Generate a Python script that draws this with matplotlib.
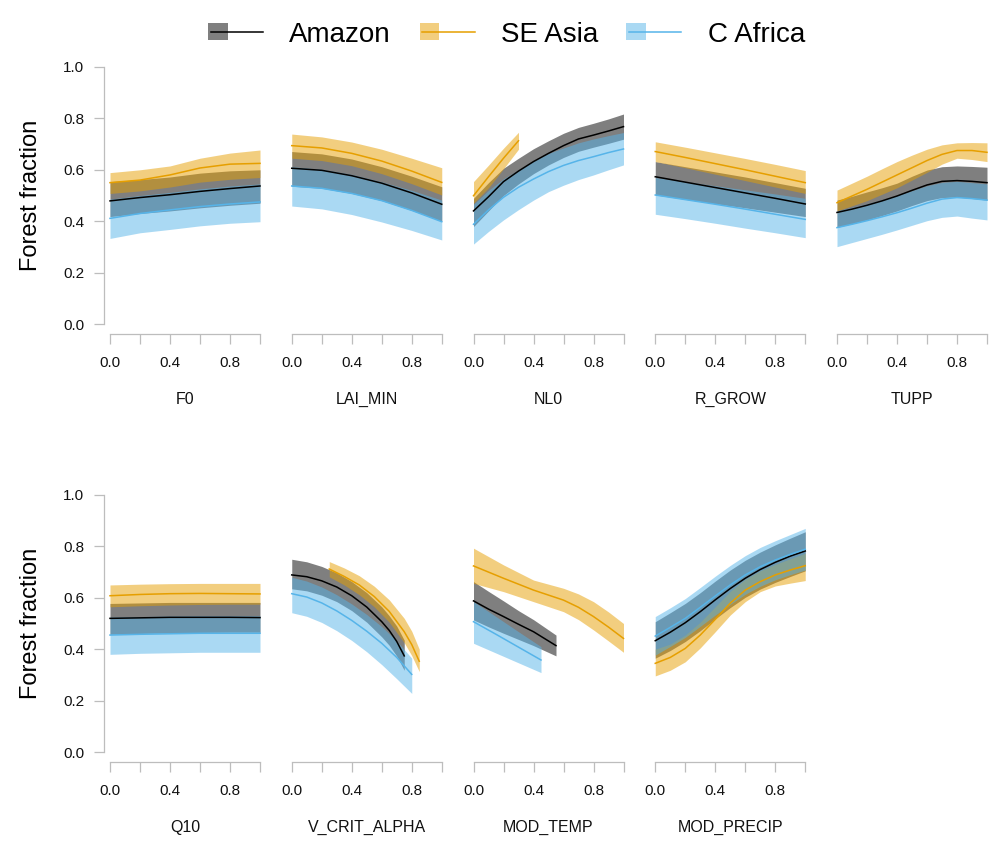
import numpy as np
import matplotlib.pyplot as plt
from matplotlib.colors import to_rgb
from matplotlib.patches import Rectangle, Patch
from matplotlib.lines import Line2D
from matplotlib.legend_handler import HandlerBase

plt.rcParams['font.family'] = ['Liberation Sans', 'DejaVu Sans']

# regions and colours
regions = ['Amazon', 'SE Asia', 'C Africa']
line_cols = ['#000000', '#E69F00', '#56B4E9']
band_alpha = 0.5

# each region block: [mean, lower, upper]
# ---- F0
f0_x = [0.0, 0.2, 0.4, 0.6, 0.8, 1.0]
f0_amazon = [[0.479, 0.492, 0.503, 0.516, 0.527, 0.537],
             [0.418, 0.430, 0.440, 0.452, 0.462, 0.470],
             [0.554, 0.562, 0.572, 0.587, 0.596, 0.600]]
f0_seasia = [[0.550, 0.560, 0.580, 0.607, 0.622, 0.625],
             [0.508, 0.518, 0.533, 0.552, 0.563, 0.570],
             [0.589, 0.600, 0.615, 0.645, 0.665, 0.677]]
f0_cafrica = [[0.411, 0.430, 0.444, 0.457, 0.467, 0.475],
              [0.333, 0.355, 0.368, 0.382, 0.392, 0.398],
              [0.486, 0.500, 0.512, 0.526, 0.537, 0.545]]

# ---- LAI_MIN
lai_x = [0.0, 0.2, 0.4, 0.6, 0.8, 1.0]
lai_amazon = [[0.606, 0.598, 0.577, 0.548, 0.510, 0.466],
              [0.536, 0.528, 0.508, 0.480, 0.442, 0.400],
              [0.671, 0.662, 0.642, 0.612, 0.575, 0.534]]
lai_seasia = [[0.694, 0.685, 0.664, 0.634, 0.595, 0.551],
              [0.645, 0.636, 0.616, 0.585, 0.546, 0.502],
              [0.739, 0.728, 0.708, 0.680, 0.645, 0.608]]
lai_cafrica = [[0.537, 0.528, 0.508, 0.480, 0.442, 0.398],
               [0.459, 0.448, 0.426, 0.397, 0.364, 0.327],
               [0.612, 0.602, 0.582, 0.553, 0.520, 0.482]]

# ---- NL0
nl0_x = [0.0, 0.1, 0.2, 0.3, 0.4, 0.5, 0.6, 0.7, 0.8, 0.9, 1.0]
nl0_x_seasia = [0.0, 0.1, 0.2, 0.3]
nl0_amazon = [[0.440, 0.495, 0.554, 0.595, 0.632, 0.664, 0.694, 0.720, 0.735, 0.751, 0.768],
              [0.379, 0.440, 0.500, 0.545, 0.585, 0.619, 0.648, 0.672, 0.688, 0.703, 0.719],
              [0.489, 0.550, 0.606, 0.645, 0.682, 0.713, 0.742, 0.765, 0.781, 0.798, 0.817]]
nl0_seasia = [[0.499, 0.573, 0.645, 0.713],
              [0.470, 0.530, 0.604, 0.680],
              [0.554, 0.618, 0.684, 0.746]]
nl0_cafrica = [[0.388, 0.444, 0.493, 0.532, 0.564, 0.593, 0.617, 0.636, 0.651, 0.667, 0.681],
               [0.311, 0.360, 0.405, 0.445, 0.482, 0.515, 0.540, 0.562, 0.580, 0.600, 0.619],
               [0.466, 0.520, 0.565, 0.600, 0.635, 0.664, 0.685, 0.705, 0.720, 0.733, 0.745]]

# ---- R_GROW
rg_x = [0.0, 0.2, 0.4, 0.6, 0.8, 1.0]
rg_amazon = [[0.573, 0.552, 0.531, 0.510, 0.489, 0.467],
             [0.502, 0.485, 0.468, 0.452, 0.435, 0.418],
             [0.632, 0.612, 0.592, 0.572, 0.550, 0.528]]
rg_seasia = [[0.671, 0.648, 0.624, 0.600, 0.575, 0.550],
             [0.632, 0.608, 0.583, 0.558, 0.533, 0.508],
             [0.709, 0.688, 0.666, 0.644, 0.621, 0.597]]
rg_cafrica = [[0.502, 0.484, 0.466, 0.447, 0.427, 0.407],
              [0.427, 0.410, 0.392, 0.373, 0.355, 0.336],
              [0.570, 0.554, 0.538, 0.522, 0.506, 0.489]]

# ---- TUPP
tupp_x = [0.0, 0.1, 0.2, 0.3, 0.4, 0.5, 0.6, 0.7, 0.8, 0.9, 1.0]
tupp_amazon = [[0.434, 0.447, 0.462, 0.479, 0.498, 0.520, 0.541, 0.555, 0.558, 0.555, 0.550],
               [0.376, 0.390, 0.405, 0.422, 0.440, 0.461, 0.480, 0.492, 0.494, 0.488, 0.482],
               [0.482, 0.497, 0.514, 0.530, 0.548, 0.575, 0.599, 0.612, 0.615, 0.613, 0.610]]
tupp_seasia = [[0.472, 0.498, 0.524, 0.552, 0.580, 0.608, 0.636, 0.660, 0.675, 0.675, 0.668],
               [0.440, 0.460, 0.480, 0.505, 0.530, 0.560, 0.590, 0.622, 0.645, 0.640, 0.632],
               [0.521, 0.548, 0.575, 0.604, 0.632, 0.657, 0.680, 0.697, 0.705, 0.706, 0.705]]
tupp_cafrica = [[0.375, 0.388, 0.402, 0.417, 0.433, 0.451, 0.470, 0.486, 0.492, 0.488, 0.482],
                [0.301, 0.317, 0.333, 0.349, 0.366, 0.384, 0.402, 0.415, 0.420, 0.412, 0.405],
                [0.440, 0.454, 0.468, 0.484, 0.500, 0.519, 0.538, 0.551, 0.555, 0.550, 0.545]]

# ---- Q10
q10_x = [0.0, 0.2, 0.4, 0.6, 0.8, 1.0]
q10_amazon = [[0.520, 0.522, 0.524, 0.524, 0.524, 0.523],
              [0.458, 0.461, 0.463, 0.465, 0.466, 0.466],
              [0.578, 0.580, 0.582, 0.582, 0.582, 0.582]]
q10_seasia = [[0.608, 0.613, 0.616, 0.617, 0.616, 0.615],
              [0.565, 0.569, 0.572, 0.574, 0.575, 0.575],
              [0.650, 0.653, 0.655, 0.656, 0.656, 0.656]]
q10_cafrica = [[0.455, 0.458, 0.460, 0.462, 0.462, 0.462],
               [0.380, 0.384, 0.386, 0.388, 0.388, 0.388],
               [0.525, 0.527, 0.529, 0.530, 0.530, 0.530]]

# ---- V_CRIT_ALPHA
vc_x_amazon = [0.0, 0.1, 0.2, 0.3, 0.4, 0.5, 0.6, 0.65, 0.7, 0.75]
vc_x_seasia = [0.25, 0.35, 0.45, 0.55, 0.65, 0.75, 0.8, 0.85]
vc_x_cafrica = [0.0, 0.1, 0.2, 0.3, 0.4, 0.5, 0.6, 0.7, 0.8]
vc_amazon = [[0.689, 0.682, 0.666, 0.642, 0.608, 0.564, 0.507, 0.473, 0.430, 0.374],
             [0.635, 0.627, 0.610, 0.585, 0.550, 0.505, 0.448, 0.415, 0.373, 0.318],
             [0.750, 0.740, 0.722, 0.697, 0.663, 0.620, 0.565, 0.530, 0.490, 0.435]]
vc_seasia = [[0.712, 0.683, 0.650, 0.605, 0.547, 0.468, 0.418, 0.353],
             [0.682, 0.650, 0.612, 0.565, 0.505, 0.425, 0.375, 0.313],
             [0.741, 0.716, 0.686, 0.645, 0.592, 0.520, 0.470, 0.400]]
vc_cafrica = [[0.616, 0.603, 0.580, 0.549, 0.512, 0.470, 0.423, 0.368, 0.302],
              [0.542, 0.528, 0.504, 0.472, 0.434, 0.390, 0.340, 0.285, 0.228],
              [0.680, 0.665, 0.642, 0.612, 0.576, 0.535, 0.488, 0.432, 0.365]]

# ---- MOD_TEMP
mt_x_amazon = [0.0, 0.1, 0.2, 0.3, 0.4, 0.55]
mt_x_seasia = [0.0, 0.2, 0.4, 0.6, 0.7, 0.8, 0.9, 1.0]
mt_x_cafrica = [0.0, 0.15, 0.3, 0.45]
mt_amazon = [[0.588, 0.556, 0.527, 0.497, 0.468, 0.414],
             [0.514, 0.487, 0.462, 0.438, 0.414, 0.374],
             [0.663, 0.625, 0.588, 0.550, 0.515, 0.455]]
mt_seasia = [[0.724, 0.676, 0.630, 0.591, 0.563, 0.527, 0.486, 0.442],
             [0.656, 0.624, 0.585, 0.546, 0.515, 0.475, 0.432, 0.388],
             [0.793, 0.728, 0.669, 0.637, 0.615, 0.585, 0.545, 0.500]]
mt_cafrica = [[0.507, 0.458, 0.408, 0.358],
              [0.423, 0.385, 0.347, 0.309],
              [0.585, 0.527, 0.468, 0.410]]

# ---- MOD_PRECIP
mp_x = [0.0, 0.1, 0.2, 0.3, 0.4, 0.5, 0.6, 0.7, 0.8, 0.9, 1.0]
mp_amazon = [[0.433, 0.466, 0.503, 0.546, 0.592, 0.636, 0.676, 0.710, 0.738, 0.762, 0.782],
             [0.365, 0.395, 0.430, 0.472, 0.518, 0.562, 0.602, 0.634, 0.660, 0.683, 0.705],
             [0.507, 0.542, 0.578, 0.620, 0.665, 0.708, 0.746, 0.778, 0.806, 0.832, 0.857]]
mp_seasia = [[0.345, 0.368, 0.403, 0.455, 0.516, 0.579, 0.630, 0.663, 0.689, 0.708, 0.725],
             [0.296, 0.318, 0.351, 0.405, 0.468, 0.533, 0.585, 0.624, 0.646, 0.657, 0.667],
             [0.400, 0.420, 0.455, 0.505, 0.565, 0.625, 0.672, 0.705, 0.730, 0.752, 0.773]]
mp_cafrica = [[0.451, 0.485, 0.520, 0.563, 0.607, 0.650, 0.689, 0.721, 0.747, 0.769, 0.789],
              [0.377, 0.411, 0.446, 0.489, 0.533, 0.575, 0.614, 0.645, 0.670, 0.690, 0.708],
              [0.527, 0.561, 0.597, 0.640, 0.684, 0.726, 0.764, 0.796, 0.822, 0.846, 0.870]]

# (name, row, col, [(x, block) for Amazon, SE Asia, C Africa])
panels = [
    ('F0', 0, 0, [(f0_x, f0_amazon), (f0_x, f0_seasia), (f0_x, f0_cafrica)]),
    ('LAI_MIN', 0, 1, [(lai_x, lai_amazon), (lai_x, lai_seasia), (lai_x, lai_cafrica)]),
    ('NL0', 0, 2, [(nl0_x, nl0_amazon), (nl0_x_seasia, nl0_seasia), (nl0_x, nl0_cafrica)]),
    ('R_GROW', 0, 3, [(rg_x, rg_amazon), (rg_x, rg_seasia), (rg_x, rg_cafrica)]),
    ('TUPP', 0, 4, [(tupp_x, tupp_amazon), (tupp_x, tupp_seasia), (tupp_x, tupp_cafrica)]),
    ('Q10', 1, 0, [(q10_x, q10_amazon), (q10_x, q10_seasia), (q10_x, q10_cafrica)]),
    ('V_CRIT_ALPHA', 1, 1, [(vc_x_amazon, vc_amazon), (vc_x_seasia, vc_seasia), (vc_x_cafrica, vc_cafrica)]),
    ('MOD_TEMP', 1, 2, [(mt_x_amazon, mt_amazon), (mt_x_seasia, mt_seasia), (mt_x_cafrica, mt_cafrica)]),
    ('MOD_PRECIP', 1, 3, [(mp_x, mp_amazon), (mp_x, mp_seasia), (mp_x, mp_cafrica)]),
]

axis_grey = '#bdbdbd'
W, H = 1000, 857
fig = plt.figure(figsize=(10, 8.57), dpi=100)

for name, row, col, series in panels:
    left = 104 + col * 181.75
    top = 56.7 if row == 0 else 484.7
    ax = fig.add_axes([left / W, 1 - (top + 277.6) / H, 162 / W, 277.6 / H])
    ax.patch.set_visible(False)

    for (x, block), lc in zip(series, line_cols):
        mean, lo, hi = block
        ax.fill_between(x, lo, hi, color=lc, alpha=band_alpha, lw=0)
        ax.plot(x, mean, color=lc, lw=1.1)

    ax.set_xlim(-0.04, 1.04)
    ax.set_ylim(-0.04, 1.04)
    ax.spines['top'].set_visible(False)
    ax.spines['right'].set_visible(False)
    ax.spines['bottom'].set_bounds(0, 1)
    ax.spines['bottom'].set_color(axis_grey)
    ax.spines['bottom'].set_linewidth(0.9)
    ax.set_xticks(np.arange(0, 1.01, 0.2))
    ax.set_xticklabels(['0.0', '', '0.4', '', '0.8', ''])
    ax.tick_params(axis='x', length=7.2, width=0.9, color=axis_grey,
                   pad=8.5, labelsize=11, labelcolor='#111111')
    ax.set_xlabel(name, fontsize=11.5, labelpad=15.5, color='#111111')

    if col == 0:
        ax.spines['left'].set_bounds(0, 1)
        ax.spines['left'].set_color(axis_grey)
        ax.spines['left'].set_linewidth(0.9)
        ax.set_yticks(np.arange(0, 1.01, 0.2))
        ax.set_yticklabels(['0.0', '0.2', '0.4', '0.6', '0.8', '1.0'])
        ax.tick_params(axis='y', length=7.2, width=0.9, color=axis_grey,
                       pad=7, labelsize=11, labelcolor='#111111')
        ax.set_ylabel('Forest fraction', fontsize=17, labelpad=15)
    else:
        ax.spines['left'].set_visible(False)
        ax.set_yticks([])


class BandLineHandler(HandlerBase):
    # filled box on the left with the line running across it
    def create_artists(self, legend, orig_handle, xdescent, ydescent,
                       width, height, fontsize, trans):
        y0 = height / 2 - ydescent
        box_h = 0.88 * height
        rect = Rectangle((-xdescent, y0 - box_h / 2), 0.36 * width, box_h,
                         facecolor=orig_handle.get_facecolor(), lw=0,
                         transform=trans)
        line = Line2D([-xdescent + 2, width - xdescent], [y0, y0],
                      color=orig_handle.get_edgecolor(), lw=1.1,
                      transform=trans)
        return [rect, line]


handles = []
for lc in line_cols:
    r, g, b = to_rgb(lc)
    handles.append(Patch(facecolor=(r, g, b, band_alpha), edgecolor=(r, g, b, 1.0)))

fig.legend(handles, regions, loc='center', bbox_to_anchor=(0.5065, 1 - 34.5 / H),
           ncol=3, frameon=False, fontsize=20, handlelength=1.98,
           handletextpad=0.94, columnspacing=1.03,
           handler_map={Patch: BandLineHandler()})

fig.savefig('out.png', dpi=100)
